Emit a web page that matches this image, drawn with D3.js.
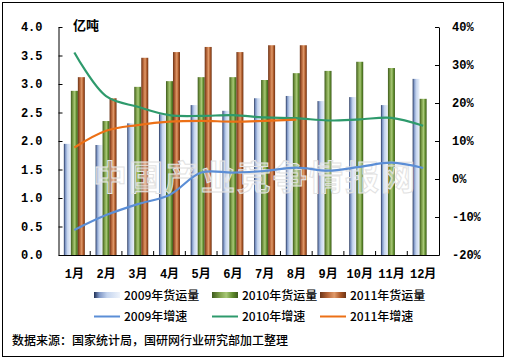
<!DOCTYPE html>
<html><head><meta charset="utf-8">
<script src="https://cdn.jsdelivr.net/npm/d3@7"></script>
<style>body{margin:0;background:#fff}svg{display:block}</style>
</head><body>
<script>
const months = ["1月","2月","3月","4月","5月","6月","7月","8月","9月","10月","11月","12月"];
const vol2009 = [1.95,1.93,2.31,2.47,2.63,2.53,2.75,2.79,2.70,2.77,2.63,3.09];
const vol2010 = [2.88,2.35,2.95,3.05,3.12,3.12,3.07,3.19,3.23,3.39,3.28,2.74];
const vol2011 = [3.12,2.75,3.46,3.56,3.65,3.56,3.68,3.68];
const gr2009 = [-13.4,-9.5,-6.6,-4.2,1.7,1.7,2.1,3.0,2.2,3.2,4.3,2.9];
const gr2010 = [33.3,21.8,19.0,16.8,16.6,16.8,16.2,16.0,15.4,15.7,16.1,14.0];
const gr2011 = [8.3,12.7,14.2,15.1,15.3,15.1,15.3,15.6];
const leftTicks = [0,0.5,1,1.5,2,2.5,3,3.5,4];
const rightTicks = [-20,-10,0,10,20,30,40];
const barNames = ["2009年货运量","2010年货运量","2011年货运量"];
const lineNames = ["2009年增速","2010年增速","2011年增速"];
const unitLabel = "亿吨";
const sourceText = "数据来源：国家统计局，国研网行业研究部加工整理";
const watermark = "中国产业竞争情报网";

const W = 506, H = 359;
const svg = d3.select("body").append("svg").attr("width", W).attr("height", H);
const defs = svg.append("defs");
function grad(id, stops){
  const g = defs.append("linearGradient").attr("id", id).attr("x1","0").attr("x2","1").attr("y1","0").attr("y2","0");
  stops.forEach(s => g.append("stop").attr("offset", s[0]).attr("stop-color", s[1]));
}
grad("gBlue", [[0,"#1f2f55"],[0.2,"#7d95c4"],[0.5,"#c4d4ee"],[1,"#eef3fb"]]);
grad("gGreen", [[0,"#3d5a1c"],[0.3,"#7ea04a"],[0.55,"#a8c877"],[0.8,"#5e8a2c"],[1,"#3d5a1c"]]);
grad("gOrange", [[0,"#6b3418"],[0.3,"#b8673a"],[0.55,"#e09a6a"],[0.8,"#a85424"],[1,"#6b3418"]]);
const fills = ["url(#gBlue)","url(#gGreen)","url(#gOrange)"];
const lineColors = ["#5b8ed6","#2e9a6c","#ec7016"];

svg.append("rect").attr("x",2.5).attr("y",2.5).attr("width",501).attr("height",354)
  .attr("fill","#fff").attr("stroke","#000").attr("stroke-width",1);

const L = 58.5, R = 439, T = 27, B = 255;
const x = d3.scaleBand().domain(months).range([L, R]).paddingInner(0).paddingOuter(0);
const xs = d3.scaleBand().domain([0,1,2]).range([0, 21]);
const yL = d3.scaleLinear().domain([0,4]).range([B, T]);
const yR = d3.scaleLinear().domain([-20,40]).range([B, T]);

const series = [vol2009, vol2010, vol2011];
series.forEach((vals, si) => {
  svg.append("g").selectAll("rect").data(vals).join("rect")
    .attr("x", (d,i) => x(months[i]) + (x.bandwidth()-21)/2 + xs(si))
    .attr("y", d => yL(d))
    .attr("width", xs.bandwidth())
    .attr("height", d => B - yL(d))
    .attr("fill", fills[si]);
});

// watermark
svg.append("text").attr("x", 255).attr("y", 190).attr("text-anchor","middle")
  .attr("font-family","Noto Sans CJK SC").attr("font-size",34).attr("font-weight","bold")
  .attr("letter-spacing", 2)
  .attr("fill","#ffffff").attr("fill-opacity",0.4).attr("stroke","#e2e2e2").attr("stroke-width",1)
  .text(watermark);

const lines = [gr2009, gr2010, gr2011];
const lineGen = d3.line().x((d,i) => x(months[i]) + x.bandwidth()/2).y(d => yR(d)).curve(d3.curveCatmullRom.alpha(0.5));
lines.forEach((vals, si) => {
  svg.append("path").attr("d", lineGen(vals)).attr("fill","none")
    .attr("stroke", lineColors[si]).attr("stroke-width", 2.2);
});

// axes
const tickFont = "'Liberation Mono','DejaVu Sans Mono',monospace";
const axL = svg.append("g").attr("transform", `translate(${L},0)`)
  .call(d3.axisLeft(yL).tickValues(leftTicks).tickFormat(d3.format(".1f")).tickSizeInner(-4).tickSizeOuter(0).tickPadding(16));
const axR = svg.append("g").attr("transform", `translate(${R},0)`)
  .call(d3.axisRight(yR).tickValues(rightTicks).tickFormat(d => d + "%").tickSizeInner(-4).tickSizeOuter(0).tickPadding(13));
const axB = svg.append("g").attr("transform", `translate(0,${B})`)
  .call(d3.axisBottom(x).tickSize(0).tickPadding(14));
[axL, axR, axB].forEach(a => {
  a.select(".domain").attr("stroke","#000");
  a.selectAll(".tick line").attr("stroke","#000");
  a.selectAll("text").attr("font-family", tickFont + ",'Noto Sans CJK SC'").attr("font-size",12).attr("font-weight","bold").attr("fill","#000");
});
// category boundary ticks on x axis (inside)
svg.append("g").selectAll("line").data(months.slice(1)).join("line")
  .attr("x1", d => x(d)).attr("x2", d => x(d)).attr("y1", B).attr("y2", B-4).attr("stroke","#000");

svg.append("text").attr("x", 73).attr("y", 30).attr("font-family","Noto Sans CJK SC").attr("font-size",13).attr("font-weight","bold").text(unitLabel);

// legend
const legX = [94, 212, 320];
const legFont = "'Noto Sans CJK SC'";
barNames.forEach((n, i) => {
  svg.append("rect").attr("x", legX[i]).attr("y", 292).attr("width", 26).attr("height", 6).attr("fill", fills[i]);
  svg.append("text").attr("x", legX[i]+30).attr("y", 299.5).attr("font-family",legFont).attr("font-size",12).attr("font-weight",500).text(n);
});
lineNames.forEach((n, i) => {
  svg.append("line").attr("x1", legX[i]).attr("x2", legX[i]+26).attr("y1", 316.5).attr("y2", 316.5).attr("stroke", lineColors[i]).attr("stroke-width",2);
  svg.append("text").attr("x", legX[i]+30).attr("y", 321).attr("font-family",legFont).attr("font-size",12).attr("font-weight",500).text(n);
});
svg.append("text").attr("x", 12).attr("y", 345).attr("font-family",legFont).attr("font-size",12).attr("font-weight",500).text(sourceText);
</script>
</body></html>
